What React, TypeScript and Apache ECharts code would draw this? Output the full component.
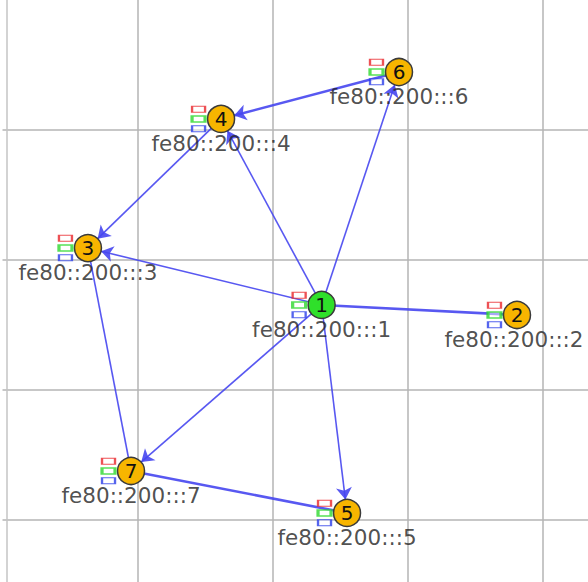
import React, { useEffect, useRef } from "react";
import * as echarts from "echarts";

// Node ids, positions (plot units) and labels
const nodeIds = ["1", "2", "3", "4", "5", "6", "7"];
const nodeX = [236.4, 381.1, 63.3, 161.9, 255.2, 293.7, 95.2];
const nodeY = [234.6, 242.3, 190.8, 91.5, 394.6, 55.4, 362.3];
const nodeAddr = [
  "fe80::200:::1",
  "fe80::200:::2",
  "fe80::200:::3",
  "fe80::200:::4",
  "fe80::200:::5",
  "fe80::200:::6",
  "fe80::200:::7",
];
const rootNode = "1";

// Links: source index, target index, arrow at target?
const linkSource = [0, 0, 0, 0, 0, 0, 5, 3, 2, 6];
const linkTarget = [3, 5, 2, 6, 4, 1, 3, 2, 6, 4];
const linkArrow = [true, true, true, true, true, false, true, true, false, false];
const linkDouble = [false, false, false, false, false, true, true, false, false, true];

const xTicksInterval = 100;
const yTicksInterval = 100;
const W = 588;
const LABEL_HALF_WIDTH = 69;

export default function App() {
  const ref = useRef<HTMLDivElement>(null);
  useEffect(() => {
    if (!ref.current) return;
    const chart = echarts.init(ref.current, null, { renderer: "svg" });
    const coords = nodeIds.map((_, i) => [nodeX[i], nodeY[i]]);
    const graphData = nodeIds.map((id, i) => ({
      name: id,
      value: coords[i],
      itemStyle: { color: id === rootNode ? "#2fe02a" : "#f7b500" },
    }));
    const links = linkSource.map((s, i) => ({
      source: s,
      target: linkTarget[i],
      symbol: linkArrow[i] ? ["none", "arrow"] : ["none", "none"],
      lineStyle: { width: linkDouble[i] ? 2.6 : 1.6 },
    }));
    const rectSeries = (color: string, offY: number, bw: number) => ({
      type: "scatter",
      data: coords,
      symbol: "rect",
      symbolSize: [13, 6],
      symbolOffset: [-22.5, offY],
      silent: true,
      z: 5,
      itemStyle: { color: "rgba(255,255,255,0.6)", borderColor: color, borderWidth: bw },
    });
    const baseOption: any = {
      animation: false,
      backgroundColor: "#ffffff",
      grid: { left: 2.5, top: 0, right: 0, bottom: 0 },
      xAxis: {
        type: "value",
        min: 0,
        max: 433.7,
        interval: xTicksInterval,
        axisLine: { show: false },
        axisTick: { show: false },
        axisLabel: { show: false },
        splitLine: {
          show: true,
          showMinLine: false,
          showMaxLine: false,
          lineStyle: { color: "#b4b4b4", width: 1.5 },
        },
      },
      yAxis: {
        type: "value",
        inverse: true,
        min: 0,
        max: 447.7,
        interval: yTicksInterval,
        offset: -4.5,
        axisLine: { show: true, lineStyle: { color: "#c4c4c4", width: 1.5 } },
        axisTick: { show: false },
        axisLabel: { show: false },
        splitLine: {
          show: true,
          showMinLine: false,
          showMaxLine: false,
          lineStyle: { color: "#b4b4b4", width: 1.5 },
        },
      },
    };
    chart.setOption(baseOption);
    // keep address labels inside the canvas (as in the reference)
    const labelData = coords.map((c) => {
      const px = chart.convertToPixel({ gridIndex: 0 }, c) as number[];
      const overflow = px[0] + LABEL_HALF_WIDTH - (W - 5);
      return {
        value: c,
        label: { offset: [overflow > 0 ? -overflow : 0, 0] },
      };
    });
    chart.setOption({
      series: [
        {
          type: "graph",
          coordinateSystem: "cartesian2d",
          layout: "none",
          data: graphData,
          links,
          symbolSize: 27,
          edgeSymbolSize: [4, 12],
          z: 3,
          itemStyle: { borderColor: "#3a3a3a", borderWidth: 1.5 },
          lineStyle: { color: "#4646f0", opacity: 0.9, curveness: 0 },
          label: {
            show: true,
            position: "inside",
            formatter: (p: any) => p.name,
            fontFamily: "DejaVu Sans",
            fontSize: 20,
            color: "#111111",
          },
          emphasis: { disabled: true },
        },
        rectSeries("#e8262a", -9.75, 1.6),
        rectSeries("#2ed82e", 0, 2.2),
        rectSeries("#2a3de8", 9.75, 1.6),
        {
          type: "scatter",
          data: labelData,
          symbolSize: 27,
          silent: true,
          z: 4,
          itemStyle: { color: "rgba(0,0,0,0)" },
          label: {
            show: true,
            position: "bottom",
            distance: 0,
            formatter: (p: any) => nodeAddr[p.dataIndex],
            fontFamily: "DejaVu Sans",
            fontSize: 21.5,
            color: "#222222",
          },
        },
      ],
    });
    return () => chart.dispose();
  }, []);
  return (
    <div
      ref={ref}
      style={{ position: "absolute", left: 0, top: 0, width: 588, height: 582 }}
    />
  );
}
